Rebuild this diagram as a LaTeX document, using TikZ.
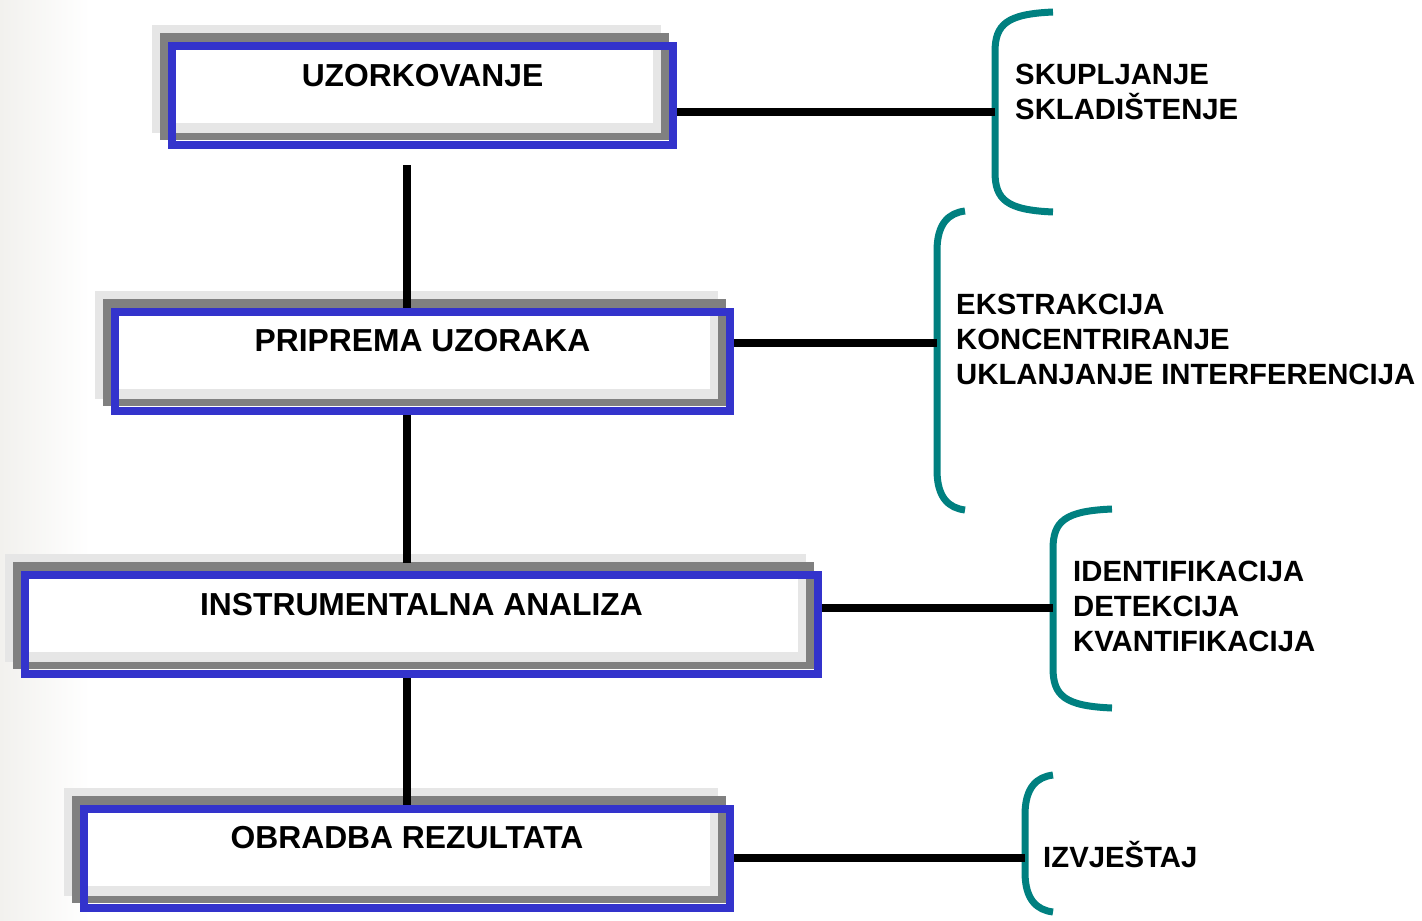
\documentclass[tikz,border=0pt]{standalone}
\usepackage{fontspec}
\setmainfont{Liberation Sans}
\definecolor{boxblue}{RGB}{51,51,204}
\definecolor{lgray}{RGB}{230,230,230}
\definecolor{dgray}{RGB}{128,128,128}
\definecolor{bteal}{RGB}{0,128,128}
\definecolor{bgleft}{RGB}{242,241,238}
% name, x0, y0, width, text, baseline offset
\newcommand\flowbox[6]{%
  \fill[lgray] (#2,#3) rectangle ++(#4,108);
  \fill[dgray] (#2+8,#3+8) rectangle ++(#4,107);
  \fill[lgray] (#2+24,#3+25) rectangle (#2+#4,#3+108);
  \fill[white] (#2+24,#3+25) rectangle (#2+#4-8,#3+98);
  \node[boxframe,minimum width={(#4-8)*1pt}] (#1) at (#2+16,#3+17) {};
  \node[boxlabel] (#1t) at (#2+16+#4/2,#3+#6) {#5};
}
% x, top, bottom, end x
\newcommand\sidebrace[4]{%
  \draw[bracepath] (#4,#2) .. controls (#1+12,#2+2) and (#1,#2+12) .. (#1,#2+40)
    -- (#1,#3-40) .. controls (#1,#3-12) and (#1+12,#3-2) .. (#4,#3);
}
\begin{document}
\begin{tikzpicture}[x=1pt,y=-1pt,
  boxframe/.style={draw=boxblue,line width=8pt,inner sep=0pt,anchor=north west,minimum height=99pt},
  boxlabel/.style={font=\fontsize{31.8}{36}\selectfont\bfseries,inner sep=0pt,anchor=base},
  sidelabel/.style={font=\fontsize{29.3}{35}\selectfont\bfseries,inner sep=0pt,anchor=north west,align=left},
  conn/.style={line width=7.5pt,draw=black},
  bracepath/.style={draw=bteal,line width=7pt}]
\useasboundingbox (0,0) rectangle (1422,921);
\shade[left color=bgleft,right color=white] (0,0) rectangle (90,921);

\flowbox{b1}{152}{25}{509}{UZORKOVANJE}{61}
\flowbox{b2}{95}{291}{623}{PRIPREMA UZORAKA}{60}
\flowbox{b3}{5}{554}{801}{INSTRUMENTALNA ANALIZA}{61}
\flowbox{b4}{64}{788}{654}{OBRADBA REZULTATA}{60}

\sidebrace{995}{12}{212}{1053}
\sidebrace{937}{211}{510}{965}
\sidebrace{1053}{509}{708}{1112}
\sidebrace{1025}{775}{912}{1053}

\coordinate (k1) at (995,112);
\coordinate (k2) at (937,343);
\coordinate (k3) at (1053,608);
\coordinate (k4) at (1025,858);
\draw[conn] (b1.east |- k1) -- (k1);
\draw[conn] (b2.east |- k2) -- (k2);
\draw[conn] (b3.east |- k3) -- (k3);
\draw[conn] (b4.east |- k4) -- (k4);

\coordinate (v1) at (407,165);
\coordinate (v2) at (407,563);
\draw[conn] (v1) -- (v1 |- b2.north);
\draw[conn] (v2 |- b2.south) -- (v2);
\draw[conn] (v2 |- b3.south) -- (v2 |- b4.north);

\node[sidelabel] (s1) at (1015,63.5) {SKUPLJANJE\\SKLADIŠTENJE};
\node[sidelabel] (s2) at (956,293.5) {EKSTRAKCIJA\\KONCENTRIRANJE\\UKLANJANJE INTERFERENCIJA};
\node[sidelabel] (s3) at (1073,560.5) {IDENTIFIKACIJA\\DETEKCIJA\\KVANTIFIKACIJA};
\node[sidelabel,anchor=base west] (s4) at (1043,867.5) {IZVJEŠTAJ};
\end{tikzpicture}
\end{document}
